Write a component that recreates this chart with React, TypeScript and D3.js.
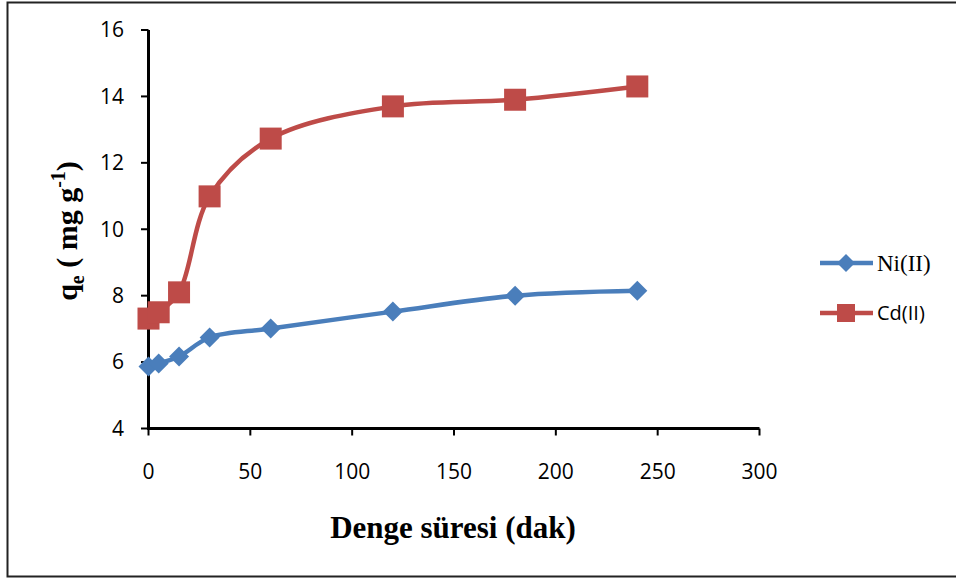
import React from "react";
import * as d3 from "d3";

// Contact time (min) and adsorption capacity q_e (mg/g)
const times = [0, 5, 15, 30, 60, 120, 180, 240];
const niValues = [5.87, 5.96, 6.17, 6.74, 7.01, 7.52, 8.0, 8.15];
const cdValues = [7.31, 7.5, 8.1, 10.99, 12.73, 13.7, 13.9, 14.3];
const xTicks = [0, 50, 100, 150, 200, 250, 300];
const yTicks = [4, 6, 8, 10, 12, 14, 16];
const seriesNames = ["Ni(II)", "Cd(II)"];

const W = 956;
const H = 579;
const BLUE = "#4a7ebb";
const RED = "#be4b48";
const SANS = "'Open Sans', 'Liberation Sans', sans-serif";
const SERIF = "'Liberation Serif', 'Times New Roman', serif";

export default function App() {
  const x = d3.scaleLinear().domain([0, 300]).range([148.5, 759.5]);
  const y = d3.scaleLinear().domain([4, 16]).range([428.5, 30]);

  const line = d3
    .line<[number, number]>()
    .x((d) => x(d[0]))
    .y((d) => y(d[1]))
    .curve(d3.curveCatmullRom.alpha(0.5));

  const ni: [number, number][] = times.map((t, i) => [t, niValues[i]]);
  const cd: [number, number][] = times.map((t, i) => [t, cdValues[i]]);

  const diamond = (cx: number, cy: number, r: number) =>
    `M${cx},${cy - r}L${cx + r},${cy}L${cx},${cy + r}L${cx - r},${cy}Z`;

  return (
    <svg
      width={W}
      height={H}
      style={{ position: "absolute", left: 0, top: 0, background: "#fff" }}
    >
      {/* outer frame (right side falls outside the view) */}
      <path d="M960,2.5H7.5V576.5H960" fill="none" stroke="#222" strokeWidth={2} />

      {/* y axis */}
      <line x1={148.5} x2={148.5} y1={y(16)} y2={y(4)} stroke="#000" strokeWidth={3} />
      {yTicks.map((t) => (
        <g key={"y" + t}>
          <line x1={141} x2={148.5} y1={y(t)} y2={y(t)} stroke="#000" strokeWidth={2} />
          <text
            x={124}
            y={y(t)}
            dy="0.35em"
            textAnchor="end"
            fontFamily={SANS}
            fontSize={21}
            fill="#000"
          >
            {t}
          </text>
        </g>
      ))}

      {/* x axis */}
      <line x1={x(0) - 1.5} x2={x(300)} y1={y(4)} y2={y(4)} stroke="#000" strokeWidth={3} />
      {xTicks.map((t) => (
        <g key={"x" + t}>
          <line x1={x(t)} x2={x(t)} y1={y(4)} y2={y(4) + 7} stroke="#000" strokeWidth={2} />
          <text
            x={x(t)}
            y={472}
            textAnchor="middle"
            dy="0.35em"
            fontFamily={SANS}
            fontSize={21}
            fill="#000"
          >
            {t}
          </text>
        </g>
      ))}

      {/* series lines */}
      <path d={line(ni) ?? ""} fill="none" stroke={BLUE} strokeWidth={4.5} />
      <path d={line(cd) ?? ""} fill="none" stroke={RED} strokeWidth={4.5} />

      {/* markers */}
      {ni.map((d, i) => (
        <path key={"n" + i} d={diamond(x(d[0]), y(d[1]), 10)} fill={BLUE} />
      ))}
      {cd.map((d, i) => (
        <rect
          key={"c" + i}
          x={x(d[0]) - 11}
          y={y(d[1]) - 11}
          width={22}
          height={22}
          fill={RED}
        />
      ))}

      {/* axis titles */}
      <text
        x={453}
        y={538}
        textAnchor="middle"
        fontFamily={SERIF}
        fontWeight="bold"
        fontSize={31}
        fill="#000"
      >
        Denge süresi (dak)
      </text>
      <text
        transform="translate(77,231) rotate(-90)"
        textAnchor="middle"
        fontFamily={SERIF}
        fontWeight="bold"
        fontSize={30}
        fill="#000"
      >
        q<tspan fontSize={20} dy={7}>e</tspan>
        <tspan dy={-7}> ( mg g</tspan>
        <tspan fontSize={20} dy={-12}>-1</tspan>
        <tspan dy={12}>)</tspan>
      </text>

      {/* legend */}
      <line x1={820} x2={873} y1={263} y2={263} stroke={BLUE} strokeWidth={4.5} />
      <path d={diamond(846, 263, 9)} fill={BLUE} />
      <text x={877} y={263} dy="0.35em" fontFamily={SERIF} fontSize={23} fill="#000">
        {seriesNames[0]}
      </text>
      <line x1={820} x2={873} y1={313} y2={313} stroke={RED} strokeWidth={4.5} />
      <rect x={837} y={304} width={18} height={18} fill={RED} />
      <text x={877} y={313} dy="0.35em" fontFamily={SANS} fontSize={20} fill="#000">
        {seriesNames[1]}
      </text>
    </svg>
  );
}
